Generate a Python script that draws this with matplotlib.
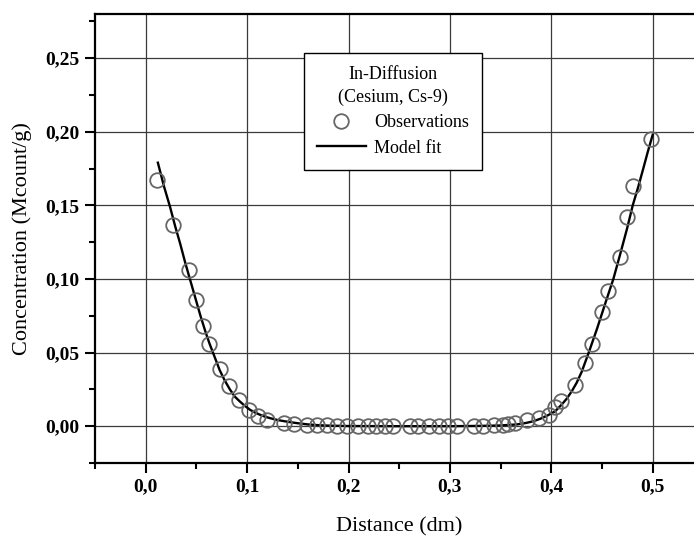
import numpy as np
import matplotlib.pyplot as plt
from matplotlib.ticker import MultipleLocator, FuncFormatter

# ===================== data =====================
obs_x = [0.011, 0.027, 0.043, 0.050, 0.057, 0.062, 0.073, 0.082, 0.092, 0.102,
         0.111, 0.120, 0.136, 0.146, 0.159, 0.169, 0.179, 0.189, 0.199, 0.209,
         0.219, 0.227, 0.236, 0.244, 0.261, 0.269, 0.279, 0.289, 0.298, 0.307,
         0.324, 0.333, 0.343, 0.352, 0.357, 0.364, 0.376, 0.388, 0.398, 0.404,
         0.410, 0.423, 0.433, 0.440, 0.450, 0.456, 0.468, 0.475, 0.481, 0.498]
obs_y = [0.167, 0.137, 0.106, 0.086, 0.068, 0.056, 0.039, 0.027, 0.018, 0.011,
         0.007, 0.004, 0.002, 0.0015, 0.001, 0.0007, 0.0005, 0.0003, 0.0002, 0.0001,
         0.0, 0.0, 0.0, 0.0, 0.0, 0.0, 0.0, 0.0, 0.0, 0.0,
         0.0, 0.0003, 0.0005, 0.001, 0.0015, 0.002, 0.004, 0.0054, 0.0077, 0.0129,
         0.0174, 0.028, 0.0432, 0.0559, 0.0774, 0.092, 0.115, 0.142, 0.163, 0.195]

fit_x = [0.012, 0.018, 0.024, 0.029, 0.034, 0.039, 0.044, 0.049, 0.054, 0.059,
         0.063, 0.068, 0.073, 0.078, 0.083, 0.088, 0.093, 0.098, 0.103, 0.108,
         0.113, 0.118, 0.123, 0.130, 0.140, 0.150, 0.160, 0.170, 0.180, 0.200,
         0.250, 0.300, 0.330, 0.350, 0.366, 0.375, 0.382, 0.389, 0.396, 0.4036,
         0.410, 0.415, 0.420, 0.425, 0.430, 0.4369, 0.445, 0.4535, 0.4612, 0.468,
         0.475, 0.4803, 0.4855, 0.4907, 0.495, 0.500]
fit_y = [0.179, 0.163, 0.149, 0.136, 0.124, 0.111, 0.099, 0.087, 0.075, 0.064,
         0.056, 0.047, 0.038, 0.031, 0.025, 0.020, 0.0167, 0.0137, 0.0111, 0.0092,
         0.0077, 0.0064, 0.0054, 0.0042, 0.0030, 0.0020, 0.0012, 0.0007, 0.0004, 0.0001,
         0.0, 0.0, 0.0002, 0.0005, 0.0012, 0.0022, 0.0033, 0.0050, 0.0072, 0.0100,
         0.0145, 0.0185, 0.0235, 0.0295, 0.0370, 0.0500, 0.0660, 0.0840, 0.1000, 0.1170,
         0.1350, 0.1500, 0.1620, 0.1750, 0.1860, 0.1980]

X_TICKS = [0.0, 0.1, 0.2, 0.3, 0.4, 0.5]
Y_TICKS = [0.00, 0.05, 0.10, 0.15, 0.20, 0.25]

# ===================== style =====================
plt.rcParams['font.family'] = ['Liberation Serif', 'DejaVu Serif']

fig = plt.figure(figsize=(6.94, 5.36), dpi=100)
ax = fig.add_axes([95 / 694, 73 / 536, 608.4 / 694, 449 / 536])

ax.plot(fit_x, fit_y, color='black', linewidth=1.7, label='Model fit', zorder=3)
ax.plot(obs_x, obs_y, linestyle='none', marker='o', markersize=10.5,
        markerfacecolor='none', markeredgecolor='#666666', markeredgewidth=1.3,
        label='Observations', zorder=4)

ax.set_xlim(-0.05, 0.55)
ax.set_ylim(-0.025, 0.28)
ax.set_xticks(X_TICKS)
ax.set_yticks(Y_TICKS)
ax.xaxis.set_minor_locator(MultipleLocator(0.05))
ax.yaxis.set_minor_locator(MultipleLocator(0.025))
ax.xaxis.set_major_formatter(FuncFormatter(lambda v, p: f"{v:.1f}".replace('.', ',')))
ax.yaxis.set_major_formatter(FuncFormatter(lambda v, p: f"{v:.2f}".replace('.', ',')))

ax.tick_params(which='major', direction='out', length=7, width=1.5,
               labelsize=14, pad=4)
ax.tick_params(which='minor', direction='out', length=4, width=1.5)
for lbl in ax.get_xticklabels() + ax.get_yticklabels():
    lbl.set_fontweight('bold')

for sp in ax.spines.values():
    sp.set_linewidth(1.6)

ax.grid(True, which='major', color='#3a3a3a', linewidth=0.9)
ax.set_axisbelow(True)

ax.set_xlabel('Distance (dm)', fontsize=16, labelpad=16)
ax.set_ylabel('Concentration (Mcount/g)', fontsize=16, labelpad=10)

handles, labels = ax.get_legend_handles_labels()
leg = ax.legend(handles[::-1], labels[::-1],
                title='In-Diffusion\n(Cesium, Cs-9)', fontsize=13, title_fontsize=13,
                loc='upper left', bbox_to_anchor=(0.3435, 0.913),
                frameon=True, fancybox=False, framealpha=1, edgecolor='black',
                handlelength=2.7, handletextpad=0.45, borderpad=0.72,
                labelspacing=0.46, borderaxespad=0)
leg.get_frame().set_linewidth(1.0)
leg.get_title().set_multialignment('center')
leg.get_title().set_linespacing(1.42)

fig.savefig('out.png', dpi=100)
